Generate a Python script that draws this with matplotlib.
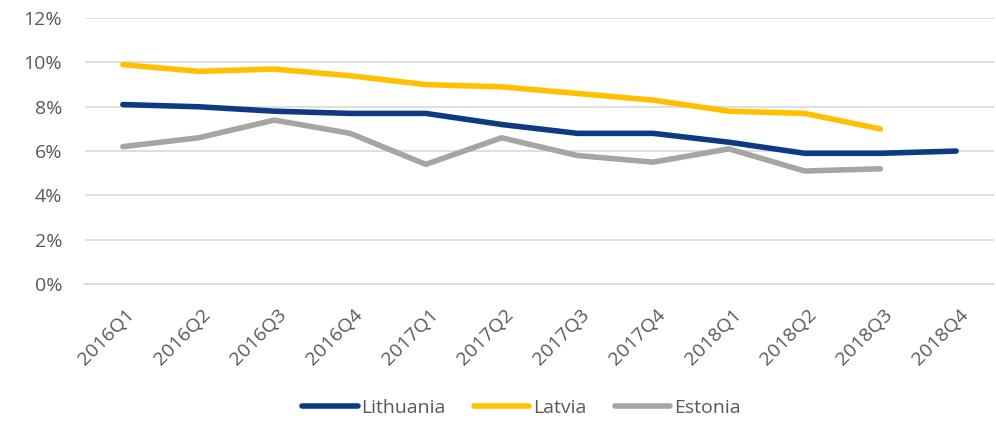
import matplotlib
matplotlib.use("Agg")
import matplotlib.pyplot as plt
from matplotlib.ticker import FuncFormatter
import matplotlib.transforms as mtransforms

quarters = ["2016Q1", "2016Q2", "2016Q3", "2016Q4", "2017Q1", "2017Q2",
            "2017Q3", "2017Q4", "2018Q1", "2018Q2", "2018Q3", "2018Q4"]
lithuania = [8.1, 8.0, 7.8, 7.7, 7.7, 7.2, 6.8, 6.8, 6.4, 5.9, 5.9, 6.0]
latvia = [9.9, 9.6, 9.7, 9.4, 9.0, 8.9, 8.6, 8.3, 7.8, 7.7, 7.0]
estonia = [6.2, 6.6, 7.4, 6.8, 5.4, 6.6, 5.8, 5.5, 6.1, 5.1, 5.2]
yticks = [0, 2, 4, 6, 8, 10, 12]

plt.rcParams['font.family'] = ['Open Sans', 'DejaVu Sans']
text_color = '#595959'
fs = 14

fig = plt.figure(figsize=(9.96, 4.22), dpi=100)
ax = fig.add_axes([0.0853, 0.327, 0.9127, 0.630])

x = list(range(len(quarters)))
lw = 4.0
ax.plot(x[:len(lithuania)], lithuania, color='#0E3A84', lw=lw, solid_capstyle='round', label='Lithuania')
ax.plot(x[:len(latvia)], latvia, color='#FFC000', lw=lw, solid_capstyle='round', label='Latvia')
ax.plot(x[:len(estonia)], estonia, color='#A5A5A5', lw=lw, solid_capstyle='round', label='Estonia')

ax.set_xlim(-0.5, len(quarters) - 0.5)
ax.set_ylim(0, 12)
ax.set_yticks(yticks)
ax.yaxis.set_major_formatter(FuncFormatter(lambda v, p: f"{v:.0f}%"))
ax.grid(axis='y', color='#D9D9D9', lw=1.2)
ax.set_axisbelow(True)
for s in ['top', 'right', 'left']:
    ax.spines[s].set_visible(False)
ax.spines['bottom'].set_color('#D9D9D9')
ax.spines['bottom'].set_linewidth(1.2)
ax.tick_params(axis='y', length=0, pad=16.5, labelsize=fs, labelcolor=text_color)
ax.tick_params(axis='x', length=0, pad=15.5, labelsize=fs, labelcolor=text_color)
ax.set_xticks(x)
ax.set_xticklabels(quarters, rotation=45, ha='right', va='top', rotation_mode='anchor')
offset = mtransforms.ScaledTranslation(3 / 100, 0, fig.dpi_scale_trans)
for lab in ax.get_xticklabels():
    lab.set_transform(lab.get_transform() + offset)

leg = fig.legend(loc='center', bbox_to_anchor=(0.5236, 0.034), ncol=3, frameon=False,
                 fontsize=fs, handlelength=2.85, handletextpad=0.2, columnspacing=1.45)
for t in leg.get_texts():
    t.set_color(text_color)

fig.savefig('out.png', dpi=100)
